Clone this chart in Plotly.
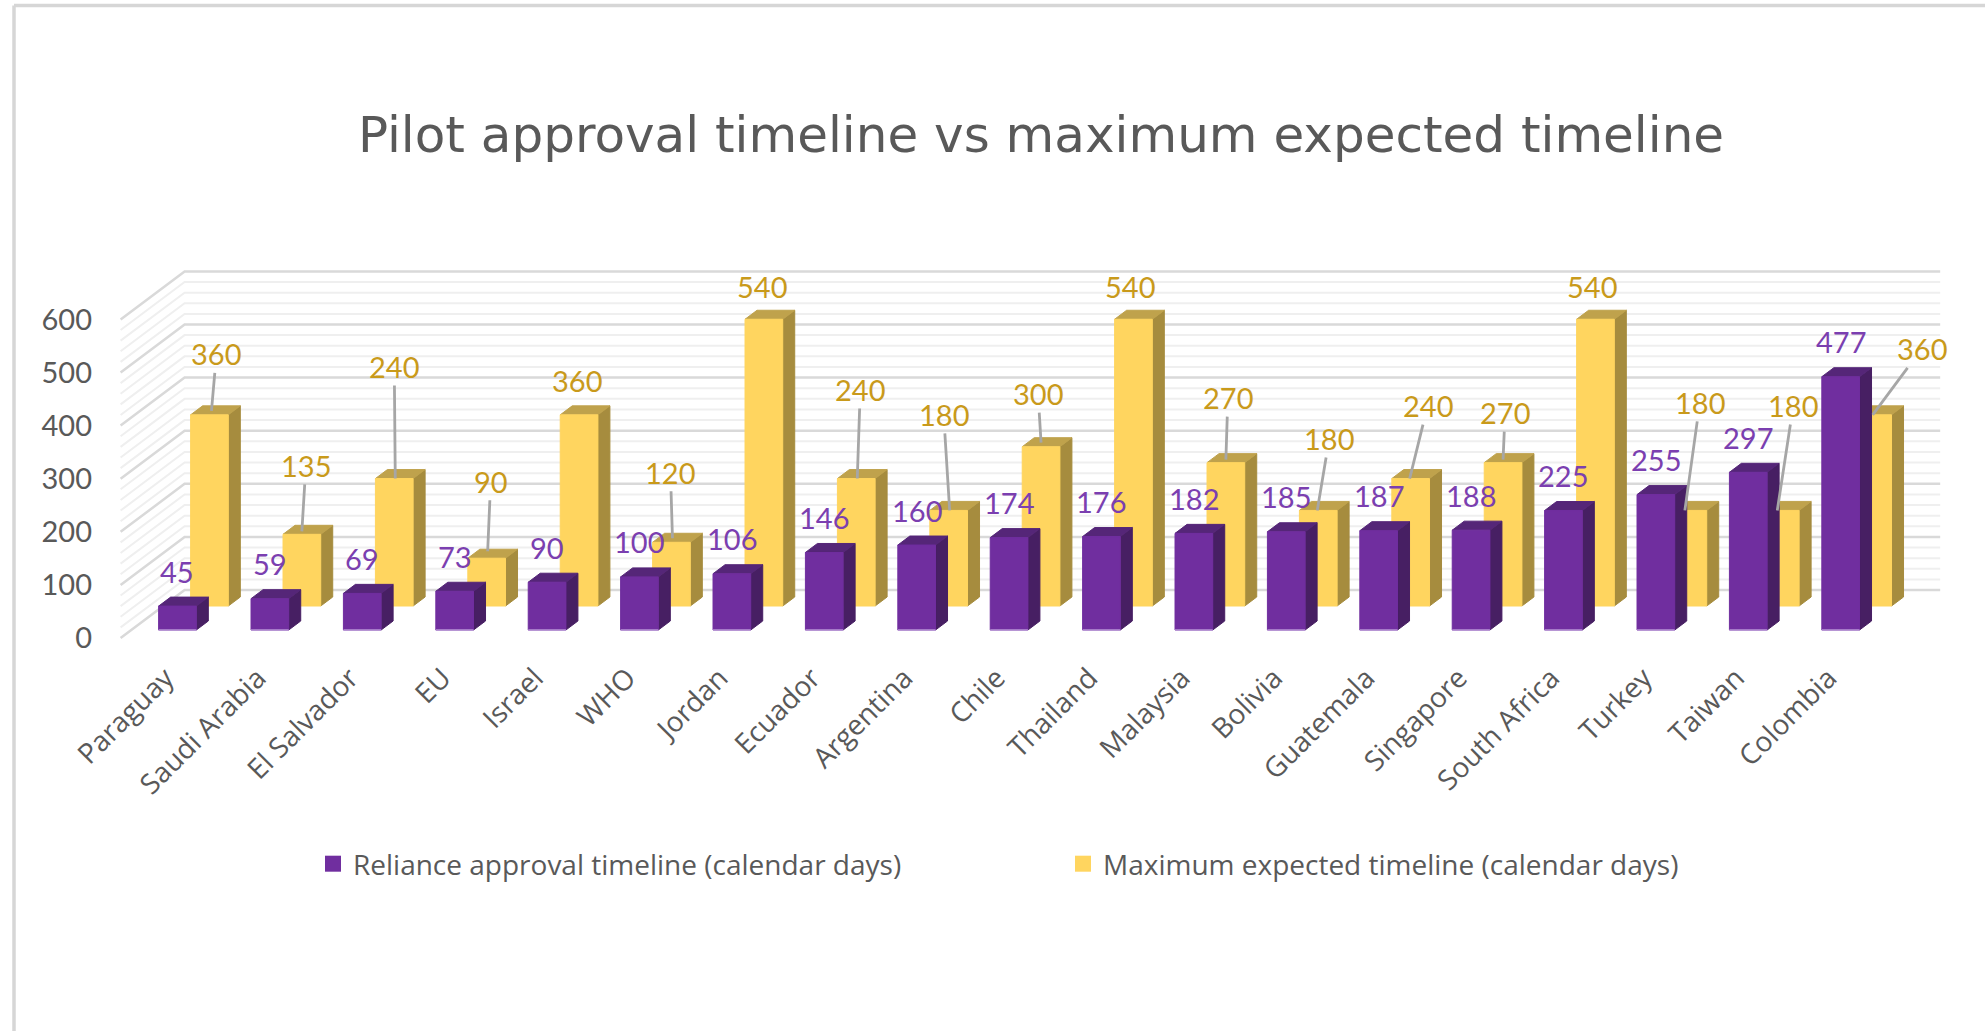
import plotly.graph_objects as go

# ---------- data ----------
categories = ["Paraguay", "Saudi Arabia", "El Salvador", "EU", "Israel", "WHO", "Jordan",
              "Ecuador", "Argentina", "Chile", "Thailand", "Malaysia", "Bolivia", "Guatemala",
              "Singapore", "South Africa", "Turkey", "Taiwan", "Colombia"]
reliance_days = [45, 59, 69, 73, 90, 100, 106, 146, 160, 174, 176, 182, 185, 187, 188, 225, 255, 297, 477]
maximum_days = [360, 135, 240, 90, 360, 120, 540, 240, 180, 300, 540, 270, 180, 240, 270, 540, 180, 180, 360]
y_ticks = [0, 100, 200, 300, 400, 500, 600]
series_names = ["Reliance approval timeline (calendar days)", "Maximum expected timeline (calendar days)"]

# ---------- label placement (pixels, relative to the bar top centre) ----------
# head_dx, head_dy: where the leader touches; ax, ay: label centre from head; leader on/off
yellow_label = [
    (2, -4, 5, -57, True), (0, -3, 4, -66, True), (1, 0, -1, -112, True), (1, -7, 3, -70, True),
    (-2, 0, 0, -34, False), (1, -4, -2, -66, True), (-2, 0, 0, -33, False), (1, 0, 3, -89, True),
    (1, 0, -6, -96, True), (0, -4, -3, -49, True), (-3, 0, 0, -33, False), (0, -3, 2, -62, True),
    (-1, 0, 12, -72, True), (-1, 0, 18, -73, True), (0, -3, 2, -47, True), (-3, 0, 0, -33, False),
    (-3, 0, 15, -108, True), (-3, 0, 16, -105, True), (0, 0, 49, -66, True),
]

# ---------- oblique projection of the 3-D scene ----------
PX_PER_CAT = 92.4
PX_PER_DAY = 0.531
DEPTH_X_PX = 64.0
DEPTH_Y_PX = 48.0
ORIGIN_X = 166.8   # pixel of category 0, front wall
ORIGIN_Y = 638.0   # pixel of value 0, front wall
PLOT_L, PLOT_R, PLOT_T, PLOT_B = 93, 1960, 230, 655
W, H = 1985, 1031


def sx(c, d):
    return c + d * DEPTH_X_PX / PX_PER_CAT


def sy(v, d):
    return v + d * DEPTH_Y_PX / PX_PER_DAY


def polygons(vals, d0, d1, half, face):
    xs, ys = [], []
    for i, v in enumerate(vals):
        if face == "front":
            pts = [(i - half, 0, d0), (i + half, 0, d0), (i + half, v, d0), (i - half, v, d0)]
        elif face == "side":
            pts = [(i + half, 0, d0), (i + half, 0, d1), (i + half, v, d1), (i + half, v, d0)]
        else:
            pts = [(i - half, v, d0), (i + half, v, d0), (i + half, v, d1), (i - half, v, d1)]
        pts.append(pts[0])
        xs += [sx(c, d) for c, _, d in pts] + [None]
        ys += [sy(y, d) for _, y, d in pts] + [None]
    return xs, ys


BAR_HALF = 0.204
BAR_DEPTH = 0.1875
PURPLE_D = 1 / 6
YELLOW_D = 2 / 3
C_LEFT, C_RIGHT = -0.5, 18.5

fig = go.Figure()


def grid(values, color, width, back=True):
    xs, ys = [], []
    for v in values:
        xs += [sx(C_LEFT, 0), sx(C_LEFT, 1)]
        ys += [sy(v, 0), sy(v, 1)]
        if back:
            xs += [sx(C_RIGHT, 1)]
            ys += [sy(v, 1)]
        xs.append(None)
        ys.append(None)
    fig.add_trace(go.Scatter(x=xs, y=ys, mode="lines", line=dict(color=color, width=width),
                             hoverinfo="skip", showlegend=False))


grid([v for v in range(0, 601, 20) if v % 100], "#efefef", 2)
grid(y_ticks, "#d9d9d9", 2.5)


def bar_series(vals, d0, colors, edge=None):
    d1 = d0 + BAR_DEPTH
    for face, col in zip(("side", "top", "front"), colors):
        xs, ys = polygons(vals, d0, d1, BAR_HALF, face)
        fig.add_trace(go.Scatter(
            x=xs, y=ys, mode="lines", fill="toself", fillcolor=col,
            line=dict(color=col, width=1),
            hoverinfo="skip", showlegend=False))
    if edge:
        xs, ys = [], []
        for i in range(len(vals)):
            xs += [sx(i - BAR_HALF, d0), sx(i + BAR_HALF, d0), None]
            ys += [sy(0, d0), sy(0, d0), None]
        fig.add_trace(go.Scatter(x=xs, y=ys, mode="lines", line=dict(color=edge, width=1.5),
                                 hoverinfo="skip", showlegend=False))


bar_series(maximum_days, YELLOW_D, ("#A68C3E", "#BFA24C", "#FFD55F"))
bar_series(reliance_days, PURPLE_D, ("#471F63", "#552678", "#702E9F"), "#B794D6")

# legend entries
for name, col in zip(series_names, ("#702E9F", "#FFD55F")):
    fig.add_trace(go.Scatter(x=[None], y=[None], mode="markers", name=name,
                             marker=dict(symbol="square", size=17, color=col)))

annotations = []
LABEL_FONT = dict(family="Lato, sans-serif", size=29)
for i, v in enumerate(reliance_days):
    annotations.append(dict(
        x=sx(i, PURPLE_D), y=sy(v, PURPLE_D), text=str(v), showarrow=False, yshift=35,
        font=dict(color="#7B3FB0", **LABEL_FONT), xanchor="center", yanchor="middle"))
for i, v in enumerate(maximum_days):
    hdx, hdy, ax, ay, leader = yellow_label[i]
    x = sx(i + hdx / PX_PER_CAT, YELLOW_D)
    y = sy(v - hdy / PX_PER_DAY, YELLOW_D)
    if leader:
        annotations.append(dict(
            x=x, y=y, text=str(v), showarrow=True, arrowhead=0, arrowwidth=2.8, arrowcolor="#A6A6A6",
            ax=ax, ay=ay, axref="pixel", ayref="pixel",
            font=dict(color="#C99A1B", **LABEL_FONT)))
    else:
        annotations.append(dict(
            x=x, y=y, text=str(v), showarrow=False, xshift=ax, yshift=-ay,
            font=dict(color="#C99A1B", **LABEL_FONT), xanchor="center", yanchor="middle"))

x_lo = (PLOT_L - ORIGIN_X) / PX_PER_CAT
x_hi = (PLOT_R - ORIGIN_X) / PX_PER_CAT
y_lo = (ORIGIN_Y - PLOT_B) / PX_PER_DAY
y_hi = (ORIGIN_Y - PLOT_T) / PX_PER_DAY
TICK_SHIFT = -12 / PX_PER_CAT

fig.update_layout(
    width=W, height=H,
    margin=dict(l=PLOT_L, r=W - PLOT_R, t=PLOT_T, b=H - PLOT_B, pad=0, autoexpand=False),
    paper_bgcolor="white", plot_bgcolor="white",
    title=dict(text="Pilot approval timeline vs maximum expected timeline",
               font=dict(family="DejaVu Sans, sans-serif", size=50, color="#595959"),
               x=1041 / W, xref="container", xanchor="center",
               y=1 - 134 / H, yref="container", yanchor="middle"),
    xaxis=dict(range=[x_lo, x_hi], showgrid=False, zeroline=False, showline=False,
               tickmode="array", tickvals=[sx(i, PURPLE_D) + TICK_SHIFT for i in range(len(categories))],
               ticktext=categories, tickangle=-45, ticks="",
               tickfont=dict(family="Open Sans, sans-serif", size=28, color="#595959")),
    yaxis=dict(range=[y_lo, y_hi], showgrid=False, zeroline=False, showline=False,
               tickmode="array", tickvals=y_ticks, ticks="",
               tickfont=dict(family="Lato, sans-serif", size=29, color="#595959")),
    legend=dict(orientation="h", xref="container", yref="container",
                x=313 / W, xanchor="left", y=1 - 864 / H, yanchor="middle",
                entrywidth=705, entrywidthmode="pixels", traceorder="normal",
                font=dict(family="Open Sans, sans-serif", size=28, color="#595959")),
    annotations=annotations,
    shapes=[
        dict(type="line", xref="paper", yref="paper",
             x0=(14 - PLOT_L) / (PLOT_R - PLOT_L), x1=(14 - PLOT_L) / (PLOT_R - PLOT_L),
             y0=(PLOT_B - 5.5) / (PLOT_B - PLOT_T), y1=(PLOT_B - H) / (PLOT_B - PLOT_T),
             line=dict(color="#d6d6d6", width=3.5)),
        dict(type="line", xref="paper", yref="paper",
             x0=(14 - PLOT_L) / (PLOT_R - PLOT_L), x1=(W - PLOT_L) / (PLOT_R - PLOT_L),
             y0=(PLOT_B - 5.5) / (PLOT_B - PLOT_T), y1=(PLOT_B - 5.5) / (PLOT_B - PLOT_T),
             line=dict(color="#d6d6d6", width=3.5)),
    ],
)

fig.write_html("out.html", config={"displayModeBar": False},
               post_script="document.body.style.margin='0';document.body.style.overflow='hidden';")
